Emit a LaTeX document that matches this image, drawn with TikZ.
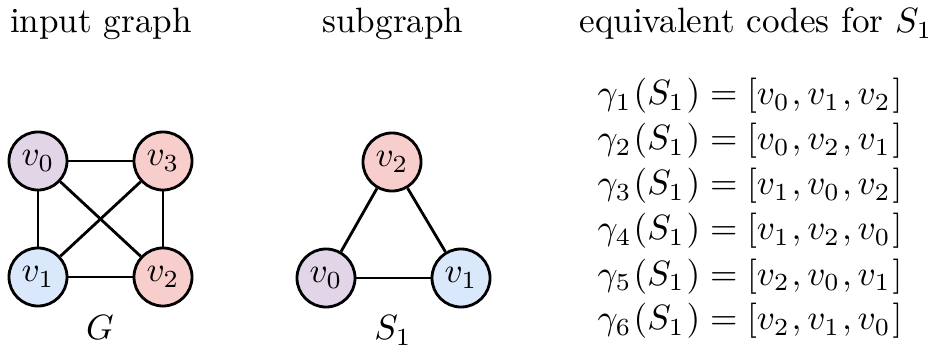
\documentclass[tikz,border=0pt]{standalone}
\usepackage{xcolor}
\definecolor{vpurple}{HTML}{E1D5E7}
\definecolor{vred}{HTML}{F8CECC}
\definecolor{vblue}{HTML}{DAE8FC}
\tikzset{
  vert/.style={circle, draw=black, line width=0.8pt, minimum size=0.58cm, inner sep=0pt},
  edge/.style={line width=0.8pt, black},
  title/.style={anchor=base},
  codetext/.style={anchor=base west, inner sep=0pt, font=\fontsize{10.2}{12}\selectfont}
}
\newcommand{\sgap}{\mkern1mu}
\begin{document}
\begin{tikzpicture}[x=0.01cm, y=-0.01cm]
    \useasboundingbox (0,0) rectangle (928,352);

    % --- titulos ---
    \node[title] (t1) at (101,33) {input graph};
    \node[title] (t2) at (393,33) {subgraph};
    \node[title] (t3) at (756,33) {equivalent codes for $S_1$};

    % --- grafo de entrada G ---
    \node[vert, fill=vpurple] (a0) at (38,161) {$v_0$};
    \node[vert, fill=vred]    (a3) at (163,161) {$v_3$};
    \node[vert, fill=vblue]   (a1) at (38,277) {$v_1$};
    \node[vert, fill=vred]    (a2) at (163,277) {$v_2$};
    \foreach \u/\w in {a0/a3, a0/a1, a0/a2, a1/a3, a1/a2, a3/a2}
      \draw[edge] (\u) -- (\w);
    \node[title] (lg) at (100,340) {$G$};

    % --- subgrafo S_1 ---
    \node[vert, fill=vred]    (b2) at (392,162) {$v_2$};
    \node[vert, fill=vpurple] (b0) at (326,278) {$v_0$};
    \node[vert, fill=vblue]   (b1) at (461,278) {$v_1$};
    \foreach \u/\w in {b2/b0, b0/b1, b1/b2}
      \draw[edge] (\u) -- (\w);
    \node[title] (ls) at (393,340) {$S_1$};

    % --- codigos equivalentes ---
    \foreach \i/\a/\b/\c [evaluate=\i as \yy using 105+45*(\i-1)] in
      {1/0/1/2, 2/0/2/1, 3/1/0/2, 4/1/2/0, 5/2/0/1, 6/2/1/0}
      \node[codetext] (code\i) at (597,\yy)
        {$\gamma_{\i}\sgap(S_1\sgap) = [v_{\a}\sgap, v_{\b}\sgap, v_{\c}\sgap]$};
  \end{tikzpicture}
\end{document}
